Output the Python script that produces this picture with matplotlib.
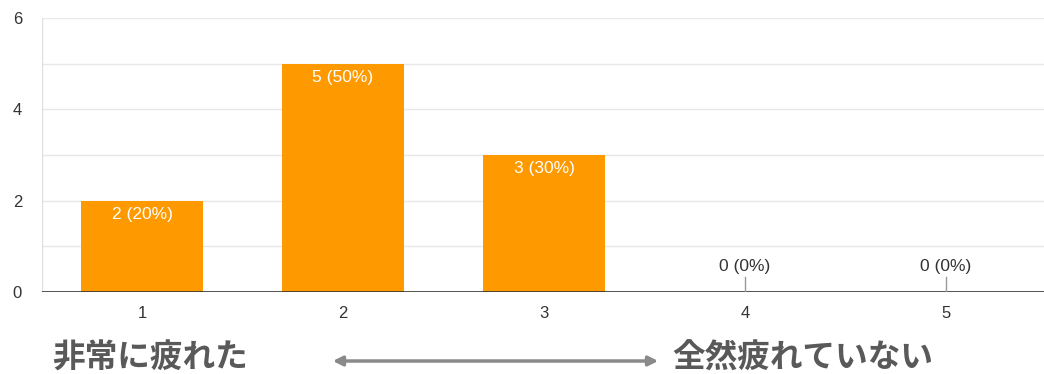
import matplotlib
matplotlib.use('Agg')
import matplotlib.pyplot as plt

# 回答の集計（1〜5段階）
categories = ['1', '2', '3', '4', '5']
counts = [2, 5, 3, 0, 0]
percents = [20, 50, 30, 0, 0]
y_ticks = [0, 2, 4, 6]

left_label = '非常に疲れた'
right_label = '全然疲れていない'

plt.rcParams['font.family'] = ['Liberation Sans', 'DejaVu Sans']

fig = plt.figure(figsize=(10.44, 3.74), dpi=100)
ax = fig.add_axes([41.5 / 1044, 82 / 374, 1005 / 1044, 274 / 374])

x = list(range(1, len(categories) + 1))
ax.bar(x, counts, width=0.61, color='#ff9900', zorder=3)

# 目盛り線（1刻み）
for v in range(1, 7):
    ax.axhline(v, color='#e8e8e8', lw=1, zorder=1)
ax.axhline(0, color='#333333', lw=1.2, zorder=4)
ax.axvline(0.5, color='#e0e0e0', lw=1, zorder=1)

for xi, c, p in zip(x, counts, percents):
    label = '%d (%d%%)' % (c, p)
    if c > 0:
        ax.text(xi, c - 0.14, label, ha='center', va='top', color='white',
                fontsize=12.5, zorder=5)
    else:
        ax.plot([xi, xi], [0, 0.32], color='#999999', lw=1, zorder=5)
        ax.text(xi, 0.4, label, ha='center', va='bottom', color='#333333',
                fontsize=12.5, zorder=5)

ax.set_xlim(0.5, 5.5)
ax.set_ylim(0, 6)
ax.set_xticks(x)
ax.set_xticklabels(categories)
ax.set_yticks(y_ticks)
ax.tick_params(axis='both', length=0, labelsize=12, colors='#333333')
ax.tick_params(axis='x', pad=10)
ax.tick_params(axis='y', pad=14)
for s in ax.spines.values():
    s.set_visible(False)

# 下部の両端ラベルと矢印
jp = ['Noto Sans CJK JP', 'DejaVu Sans']
fig.text(52 / 1044, 1 - 358 / 374, left_label, ha='left', va='center',
         fontsize=23.5, fontweight='bold', color='#595959', family=jp)
fig.text(672 / 1044, 1 - 358 / 374, right_label, ha='left', va='center',
         fontsize=23.5, fontweight='bold', color='#595959', family=jp)
fig.patches.append(matplotlib.patches.FancyArrowPatch(
    (330 / 1044, 1 - 361 / 374), (661 / 1044, 1 - 361 / 374),
    transform=fig.transFigure, arrowstyle='<|-|>', mutation_scale=14,
    color='#8a8a8a', lw=2.5))

fig.savefig('out.png', dpi=100)
